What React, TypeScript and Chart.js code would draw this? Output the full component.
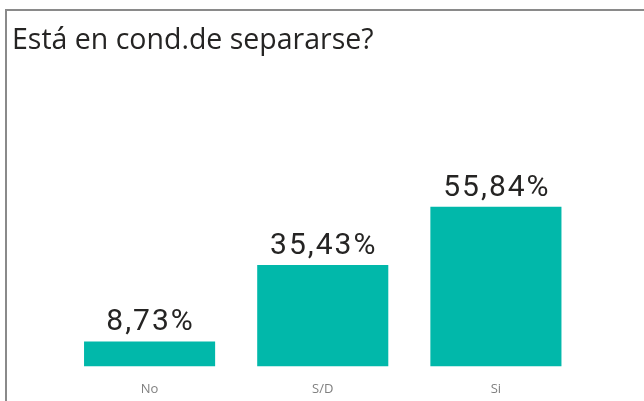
import React, { useEffect, useRef } from "react";
import { Chart, registerables } from "chart.js";

Chart.register(...registerables);

const titleText = "Está en cond.de separarse?";
const categories = ["No", "S/D", "Si"];
const values = [8.73, 35.43, 55.84];
const valueLabels = ["8,73%", "35,43%", "55,84%"];
const yMax = 70;

const barColor = "#01B8AA";

const overlayPlugin = {
  id: "overlay",
  afterDatasetsDraw(chart: any) {
    const ctx = chart.ctx;
    const meta = chart.getDatasetMeta(0);
    ctx.save();
    ctx.fillStyle = "#252423";
    ctx.font = "30px Roboto";
    try { (ctx as any).letterSpacing = "2px"; } catch (e) {}
    ctx.textAlign = "center";
    ctx.textBaseline = "alphabetic";
    meta.data.forEach((bar: any, i: number) => {
      ctx.fillText(valueLabels[i], bar.x + 1, bar.y - 11);
    });
    ctx.restore();

    ctx.save();
    ctx.fillStyle = "#252423";
    ctx.font = "28.5px 'Open Sans'";
    ctx.textAlign = "left";
    ctx.textBaseline = "alphabetic";
    ctx.fillText(titleText, 12, 49);
    ctx.restore();
  },
};

export default function App() {
  const canvasRef = useRef<HTMLCanvasElement | null>(null);

  useEffect(() => {
    if (!canvasRef.current) return;
    const chart = new Chart(canvasRef.current, {
      type: "bar",
      data: {
        labels: categories,
        datasets: [
          {
            data: values,
            backgroundColor: barColor,
            borderWidth: 0,
            categoryPercentage: 1,
            barPercentage: 0.757,
          },
        ],
      },
      options: {
        responsive: false,
        animation: false,
        layout: {
          padding: { left: 63, right: 61.5, top: 166.3, bottom: 4 },
        },
        plugins: {
          legend: { display: false },
          title: { display: false },
          tooltip: { enabled: false },
        },
        scales: {
          x: {
            grid: { display: false, drawTicks: false },
            border: { display: false },
            ticks: {
              padding: 15,
              color: "#808080",
              font: { family: "'Open Sans'", size: 13 },
            },
          },
          y: {
            display: false,
            min: 0,
            max: yMax,
          },
        },
      },
      plugins: [overlayPlugin],
    });
    return () => chart.destroy();
  }, []);

  return (
    <div
      style={{
        position: "fixed",
        left: 0,
        top: 0,
        width: 644,
        height: 401,
        overflow: "hidden",
        background: "#ffffff",
      }}
    >
      <div
        style={{
          position: "absolute",
          left: 5,
          top: 9,
          width: 700,
          height: 500,
          borderTop: "2px solid #8a8a8a",
          borderLeft: "2px solid #8a8a8a",
        }}
      />
      <canvas
        ref={canvasRef}
        width={644}
        height={416}
        style={{ position: "absolute", left: 0, top: 0, display: "block" }}
      />
    </div>
  );
}
